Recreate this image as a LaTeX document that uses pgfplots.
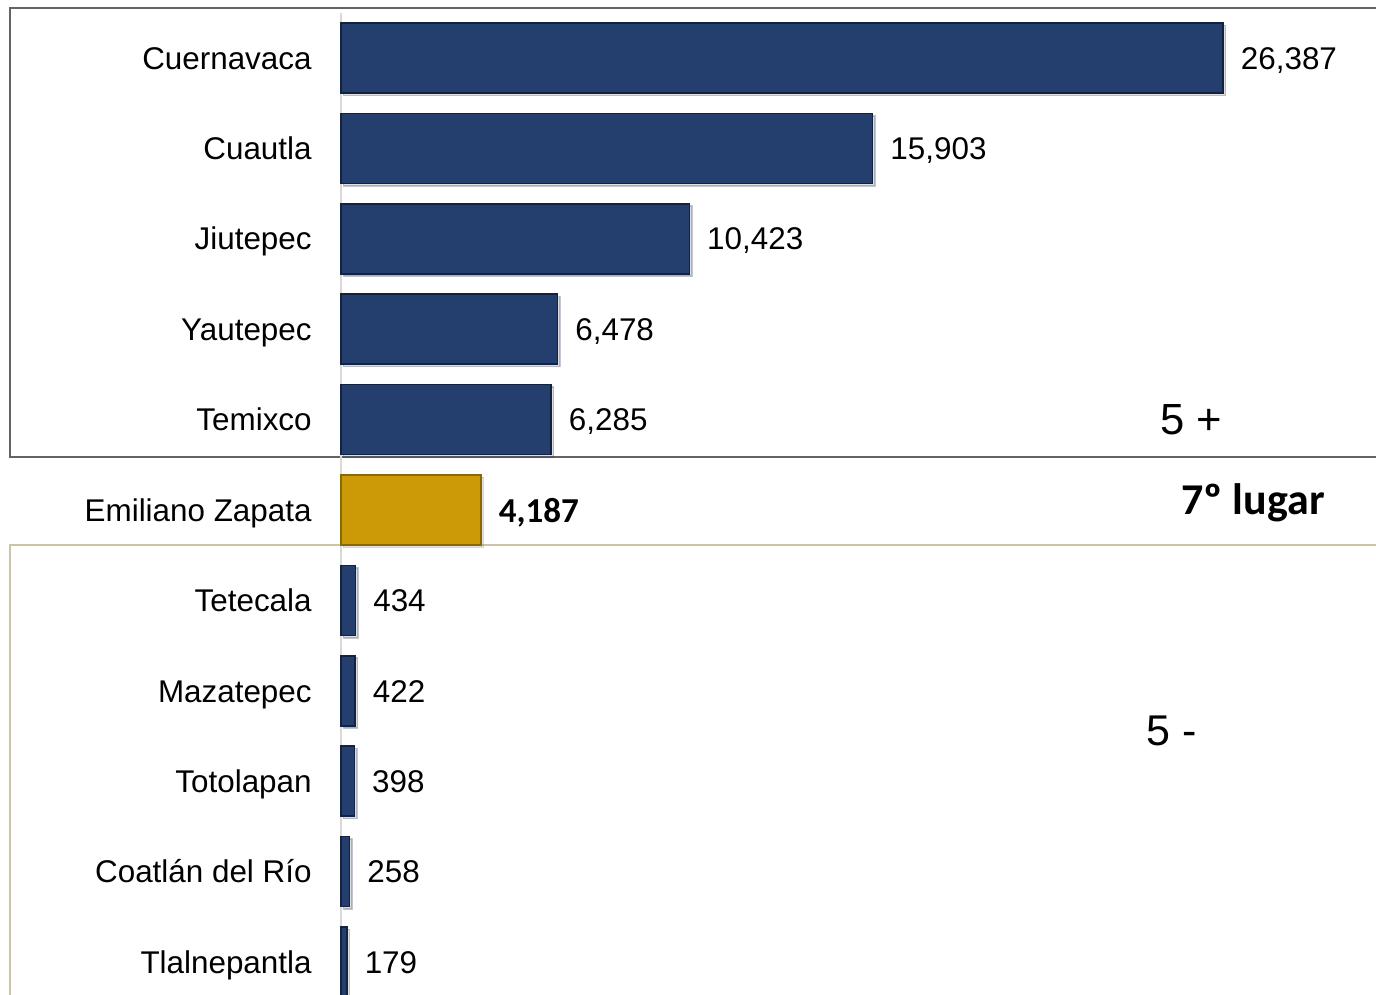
\documentclass[border=0pt]{standalone}
\usepackage{fontspec}
\setmainfont{Liberation Sans}
\newfontfamily\calibri{Carlito}
\usepackage{pgfplots}
\pgfplotsset{compat=1.18}
\usetikzlibrary{shadows}

\definecolor{navy}{RGB}{36,63,110}
\definecolor{navyedge}{RGB}{18,34,64}
\definecolor{gold}{RGB}{204,154,6}
\definecolor{goldedge}{RGB}{140,104,0}
\definecolor{boxgray}{RGB}{100,100,100}
\definecolor{boxtan}{RGB}{204,196,164}

\begin{document}
\begin{tikzpicture}
% 1 px of the reference = 0.5pt
\path[use as bounding box, fill=white] (0,0) rectangle (688pt,497.5pt);
\draw[boxgray, line width=1.2pt] (5pt,269pt) rectangle (720pt,493.5pt);
\draw[boxtan, line width=1.2pt] (5pt,-20pt) rectangle (720pt,225pt);

\begin{axis}[
    at={(170.5pt,491.1pt)}, anchor=north west,
    scale only axis, width=517.5pt, height=497.2pt,
    xmin=0, xmax=30960,
    ymin=-0.5, ymax=10.5, y dir=reverse,
    axis x line=none,
    axis y line*=left,
    y axis line style={-, draw=gray!30, line width=1pt},
    ytick={0,...,10},
    yticklabels={Cuernavaca, Cuautla, Jiutepec, Yautepec, Temixco,
        Emiliano Zapata, Tetecala, Mazatepec, Totolapan,
        Coatlán del Río, Tlalnepantla},
    major tick length=0pt,
    yticklabel style={font=\fontsize{15.7}{18}\selectfont, inner sep=0pt,
        anchor=base east, xshift=-14.5pt, yshift=-5.6pt},
    xbar, bar width=35pt, bar shift=0pt,
    nodes near coords,
    nodes near coords style={anchor=base west, inner sep=0pt, xshift=8.5pt, yshift=-5.6pt,
        font=\fontsize{15.7}{18}\selectfont},
    /pgf/number format/1000 sep={,},
    /pgf/number format/assume math mode=true,
    clip=false,
]
\addplot[fill=navy, draw=navyedge, line width=0.8pt,
    drop shadow={shadow xshift=1.2pt, shadow yshift=-1.2pt, opacity=0.25}] coordinates {
    (26387,0) (15903,1) (10423,2) (6478,3) (6285,4)
    (434,6) (422,7) (398,8) (258,9) (179,10)
};
\addplot[fill=gold, draw=goldedge, line width=0.8pt,
    drop shadow={shadow xshift=1.2pt, shadow yshift=-1.2pt, opacity=0.25},
    nodes near coords style={font=\calibri\bfseries\fontsize{17.5}{20}\selectfont, yshift=-0.6pt}]
    coordinates {(4187,5)};
\end{axis}

\node[font=\fontsize{21.8}{24}\selectfont] at (595.5pt,287.5pt) {5 +};
\node[font=\calibri\bfseries\fontsize{22}{25}\selectfont] at (626.5pt,246pt) {7º lugar};
\node[font=\fontsize{21.5}{24}\selectfont] at (586pt,132pt) {5 -};
\end{tikzpicture}
\end{document}
